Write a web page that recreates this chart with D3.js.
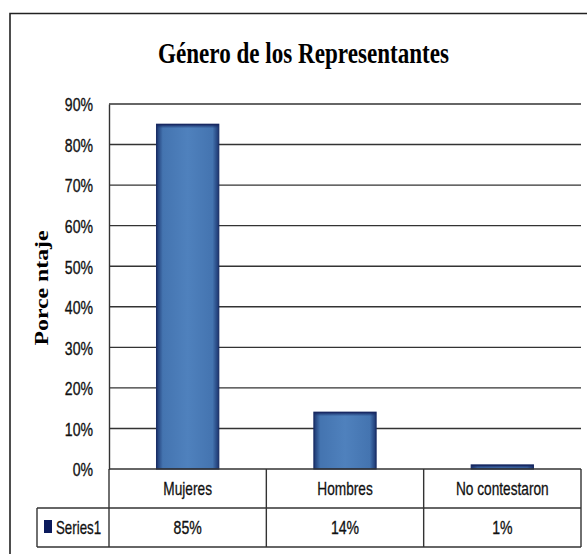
<!DOCTYPE html>
<html>
<head>
<meta charset="utf-8">
<script src="https://cdn.jsdelivr.net/npm/d3@7/dist/d3.min.js"></script>
<style>
html,body{margin:0;padding:0;background:#fff;}
svg{display:block;}
</style>
</head>
<body>
<div id="chart"></div>
<script>
const title = "Género de los Representantes";
const yAxisTitle = "Porce ntaje";
const seriesName = "Series1";
const categories = ["Mujeres", "Hombres", "No contestaron"];
const values = [0.85, 0.14, 0.01];
const valueLabels = ["85%", "14%", "1%"];
const yTicks = [0, 0.1, 0.2, 0.3, 0.4, 0.5, 0.6, 0.7, 0.8, 0.9];

const W = 587, H = 554;
const plot = {left: 109, right: 581, top: 104, bottom: 469};
const rowH = 39;

const svg = d3.select("#chart").append("svg").attr("width", W).attr("height", H);

const defs = svg.append("defs");
const g1 = defs.append("linearGradient").attr("id", "barGrad").attr("x1", "0").attr("x2", "1").attr("y1", "0").attr("y2", "0");
[[0, "#1c3670"], [0.1, "#4474b0"], [0.5, "#4f81bd"], [0.9, "#4474b0"], [1, "#1c3670"]]
  .forEach(([o, c]) => g1.append("stop").attr("offset", o).attr("stop-color", c));
const g2 = defs.append("linearGradient").attr("id", "topGrad").attr("x1", "0").attr("x2", "0").attr("y1", "0").attr("y2", "1");
[[0, "#121f5a", 1], [1, "#1c3670", 0]]
  .forEach(([o, c, op]) => g2.append("stop").attr("offset", o).attr("stop-color", c).attr("stop-opacity", op));

// outer frame
svg.append("path").attr("d", `M10,${H} L10,13.5 L${W},13.5`)
  .attr("fill", "none").attr("stroke", "#222").attr("stroke-width", 1.6);

// title
svg.append("text").attr("x", 158).attr("y", 63)
  .attr("font-family", "'Liberation Serif', 'Times New Roman', serif")
  .attr("font-weight", "bold").attr("font-size", 30)
  .attr("textLength", 291).attr("lengthAdjust", "spacingAndGlyphs")
  .attr("fill", "#000").text(title);

const y = d3.scaleLinear().domain([0, 0.9]).range([plot.bottom, plot.top]);
const xCol = d3.scaleBand().domain(categories).range([plot.left, plot.right]).padding(0);

function condense(sel, f) {
  sel.each(function() {
    const w = this.getComputedTextLength();
    d3.select(this).attr("textLength", w * f).attr("lengthAdjust", "spacingAndGlyphs");
  });
}
const labelFont = "'Liberation Sans', Arial, sans-serif";

// gridlines
svg.append("g").selectAll("line").data(yTicks.filter(t => t > 0)).join("line")
  .attr("x1", plot.left).attr("x2", plot.right)
  .attr("y1", d => y(d)).attr("y2", d => y(d))
  .attr("stroke", "#333").attr("stroke-width", 1.4);

// axis
const yAxis = d3.axisLeft(y).tickValues(yTicks).tickFormat(d3.format(".0%")).tickSize(0).tickPadding(16);
const ax = svg.append("g").attr("transform", `translate(${plot.left},0)`).call(yAxis);
ax.select(".domain").attr("stroke", "#333").attr("stroke-width", 1.4);
ax.selectAll("text")
  .attr("font-family", labelFont)
  .attr("font-size", 19).attr("fill", "#111").attr("dy", "0.36em")
  .attr("stroke", "#111").attr("stroke-width", 0.35);
condense(ax.selectAll("text"), 0.74);

// y-axis title
svg.append("text")
  .attr("transform", `translate(48,288) rotate(-90)`)
  .attr("text-anchor", "middle")
  .attr("font-family", "'Liberation Serif', 'Times New Roman', serif")
  .attr("font-weight", "bold").attr("font-size", 19)
  .attr("textLength", 115).attr("lengthAdjust", "spacingAndGlyphs")
  .attr("fill", "#000").text(yAxisTitle);

// bars
const barFrac = 0.395;
const bx = i => xCol(categories[i]) + xCol.bandwidth() * (1 - barFrac) / 2;
const bw = xCol.bandwidth() * barFrac;
const bars = svg.append("g");
bars.selectAll("rect.bar").data(values).join("rect").attr("class", "bar")
  .attr("x", (d, i) => bx(i))
  .attr("width", bw)
  .attr("y", d => y(d))
  .attr("height", d => y(0) - y(d))
  .attr("fill", "url(#barGrad)")
  .attr("stroke", "#1a2f66").attr("stroke-width", 1.2);
bars.selectAll("rect.top").data(values).join("rect").attr("class", "top")
  .attr("x", (d, i) => bx(i))
  .attr("width", bw)
  .attr("y", d => y(d))
  .attr("height", d => Math.min(4, y(0) - y(d)))
  .attr("fill", "url(#topGrad)");

// data table
const tbl = svg.append("g").attr("fill", "none").attr("stroke", "#333").attr("stroke-width", 1.4);
const t0 = plot.bottom, t1 = t0 + rowH, t2 = t1 + rowH;
tbl.append("line").attr("x1", plot.left).attr("x2", plot.right).attr("y1", t0).attr("y2", t0);
tbl.append("line").attr("x1", 37).attr("x2", plot.right).attr("y1", t1).attr("y2", t1);
tbl.append("line").attr("x1", 37).attr("x2", plot.right).attr("y1", t2).attr("y2", t2);
tbl.append("line").attr("x1", 37).attr("x2", 37).attr("y1", t1).attr("y2", t2);
const colEdges = categories.map(c => xCol(c)).concat([plot.right]);
tbl.selectAll("line.col").data(colEdges).join("line").attr("class", "col")
  .attr("x1", d => d).attr("x2", d => d).attr("y1", t0).attr("y2", t2);

const catText = svg.append("g").selectAll("text").data(categories).join("text")
  .attr("x", d => xCol(d) + xCol.bandwidth() / 2)
  .attr("y", (t0 + t1) / 2).attr("dy", "0.36em")
  .attr("text-anchor", "middle")
  .attr("font-family", labelFont)
  .attr("font-size", 19).attr("fill", "#111")
  .attr("stroke", "#111").attr("stroke-width", 0.3).text(d => d);
condense(catText, 0.72);

const valText = svg.append("g").selectAll("text").data(valueLabels).join("text")
  .attr("x", (d, i) => xCol(categories[i]) + xCol.bandwidth() / 2)
  .attr("y", (t1 + t2) / 2).attr("dy", "0.36em")
  .attr("text-anchor", "middle")
  .attr("font-family", labelFont)
  .attr("font-size", 19).attr("fill", "#111")
  .attr("stroke", "#111").attr("stroke-width", 0.35).text(d => d);
condense(valText, 0.74);

// legend key
svg.append("rect").attr("x", 44).attr("y", 520).attr("width", 8).attr("height", 13).attr("fill", "#0b1a5c");
const st = svg.append("text").attr("x", 56).attr("y", (t1 + t2) / 2).attr("dy", "0.36em")
  .attr("font-family", labelFont)
  .attr("font-size", 19).attr("fill", "#111")
  .attr("stroke", "#111").attr("stroke-width", 0.3).text(seriesName);
condense(st, 0.7);
</script>
</body>
</html>
